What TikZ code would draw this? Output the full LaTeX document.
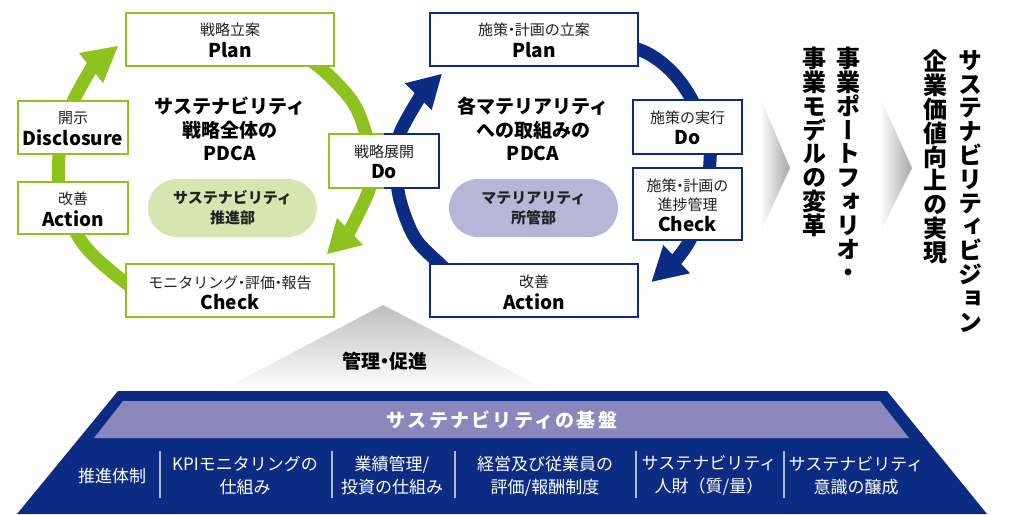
\documentclass[tikz,border=0pt]{standalone}
\usepackage{fontspec}
\setmainfont{Noto Sans CJK JP}
\newfontfamily\vfont{Noto Sans CJK JP}[RawFeature=+vert]
\definecolor{lgreen}{HTML}{8DC21F}
\definecolor{navy}{HTML}{0C2C84}
\definecolor{bandp}{HTML}{8987BB}
\definecolor{pillp}{HTML}{B7B5D8}
\definecolor{pillg}{HTML}{D6E6B1}
\definecolor{sepc}{HTML}{B4B8CF}
\definecolor{txt}{HTML}{222222}
\newcommand{\fs}[2]{\fontsize{#1}{#2}\selectfont}
\newcommand{\dt}{\hspace{-0.28em}・\hspace{-0.28em}}
\tikzset{
 gbox/.style={draw=lgreen, line width=2.3pt, fill=white, inner sep=0},
 bbox/.style={draw=navy, line width=2.3pt, fill=white, inner sep=0},
 ringg/.style={draw=lgreen, line width=13pt},
 ringb/.style={draw=navy, line width=13pt},
 xlab/.style={font=\fs{15}{18}, text=txt, inner sep=0},
 xbig/.style={font=\bfseries\fs{19}{22}, text=black, inner sep=0},
 xttl/.style={font=\bfseries\fs{19}{23.5}, align=center, text=black, inner sep=0},
 xpill/.style={rounded corners=29pt, minimum width=169pt, minimum height=58pt, inner sep=0, align=center, font=\bfseries\fs{15}{20}, text=txt},
 xitem/.style={font=\fs{17}{23}, text=white, align=center, inner sep=0},
 xv/.style={font=\vfont\bfseries\fs{24}{23.8}, align=center, anchor=north, inner sep=0, text=black},
 xsep/.style={draw=sepc, line width=1.2pt},
 xchev/.style={left color=white, right color=black!35},
}
\begin{document}
\begin{tikzpicture}[x=1pt,y=1pt]
\useasboundingbox (0,0) rectangle (1009,-514);
\fill[white] (0,0) rectangle (1009,-514);

% ---- green ring ----
\draw[ringg] plot[smooth, tension=0.55] coordinates {(165,-305) (126,-283) (84,-245) (62,-200) (58.5,-168) (62,-135) (73.3,-101) (95,-62)};
\fill[lgreen] (118,-46) -- (79,-53) -- (103,-83) -- cycle;
\draw[ringg] plot[smooth, tension=0.55] coordinates {(285,-45) (319.5,-67) (352,-101) (366,-134) (371,-162) (369,-190) (346,-238)};
\fill[lgreen] (327,-254) -- (337,-218) -- (363,-245) -- cycle;

% ---- blue ring ----
\draw[ringb] plot[smooth, tension=0.55] coordinates {(470,-292) (441,-265) (415,-238) (400,-200) (396,-165) (400,-133) (423,-92)};
\fill[navy] (441.7,-74) -- (405,-83.3) -- (431.7,-110) -- cycle;
\draw[ringb] plot[smooth, tension=0.55] coordinates {(605,-40) (645,-52) (672,-72) (692,-100) (708,-140) (710,-161) (705,-200) (690,-240) (672,-265)};
\fill[navy] (651.7,-281.7) -- (663.3,-245) -- (690,-273.3) -- cycle;

% ---- green boxes ----
\node[gbox, minimum width=208pt, minimum height=53pt] (gplan) at (230,-39.5) {};
\node[xlab] (gplanl) at (230,-30) {戦略立案};
\node[xbig] (gplanb) at (230,-50) {Plan};
\node[gbox, minimum width=110pt, minimum height=53pt] (gdis) at (73,-127.5) {};
\node[xlab] (gdisl) at (73,-118) {開示};
\node[xbig] (gdisb) at (73,-138) {Disclosure};
\node[gbox, minimum width=110pt, minimum height=52pt] (gact) at (73,-208) {};
\node[xlab] (gactl) at (73,-199) {改善};
\node[xbig] (gactb) at (73,-219) {Action};
\node[gbox, minimum width=208pt, minimum height=53pt] (gchk) at (230,-290.5) {};
\node[xlab] (gchkl) at (230,-283) {モニタリング\dt 評価\dt 報告};
\node[xbig] (gchkb) at (230,-302) {Check};

% ---- shared Do box ----
\node[fill=white, minimum width=110pt, minimum height=54pt, inner sep=0] (gdo) at (384,-161) {};
\draw[lgreen, line width=2.3pt] (gdo.north) -- (gdo.north west) -- (gdo.south west) -- (gdo.south);
\draw[navy, line width=2.3pt] (gdo.north) -- (gdo.north east) -- (gdo.south east) -- (gdo.south);
\node[xlab] (gdol) at (384,-152) {戦略展開};
\node[xbig] (gdob) at (384,-172) {Do};

% ---- blue boxes ----
\node[bbox, minimum width=208pt, minimum height=53pt] (bplan) at (534,-39.5) {};
\node[xlab] (bplanl) at (534,-30) {施策\dt 計画の立案};
\node[xbig] (bplanb) at (534,-50) {Plan};
\node[bbox, minimum width=109pt, minimum height=54pt] (bdo) at (687.5,-127) {};
\node[xlab] (bdol) at (687.5,-118) {施策の実行};
\node[xbig] (bdob) at (687.5,-138) {Do};
\node[bbox, minimum width=109pt, minimum height=72pt] (bchk) at (687.5,-204) {};
\node[xlab] (bchkl1) at (687.5,-186) {施策\dt 計画の};
\node[xlab] (bchkl2) at (687.5,-204.5) {進捗管理};
\node[xbig] (bchkb) at (687.5,-224) {Check};
\node[bbox, minimum width=208pt, minimum height=53pt] (bact) at (534,-290.5) {};
\node[xlab] (bactl) at (534,-282) {改善};
\node[xbig] (bactb) at (534,-302) {Action};

% ---- centre titles and pills ----
\node[xttl] (gttl) at (230,-129) {サステナビリティ\\戦略全体の\\PDCA};
\node[xttl] (bttl) at (533,-129) {各マテリアリティ\\への取組みの\\PDCA};
\node[xpill, fill=pillg] (gpill) at (232.5,-208) {サステナビリティ\\推進部};
\node[xpill, fill=pillp] (bpill) at (533.5,-208) {マテリアリティ\\所管部};

% ---- chevrons and vertical texts ----
\shade[xchev] (760,-97) -- (790,-168) -- (760,-233) -- cycle;
\shade[xchev] (880,-97) -- (912,-168) -- (880,-233) -- cycle;
\node[xv] (v1) at (848,-47) {事\\業\\ポ\\ー\\ト\\フ\\ォ\\リ\\オ\\・};
\node[xv] (v2) at (814,-47) {事\\業\\モ\\デ\\ル\\の\\変\\革};
\node[xv] (v3) at (970,-50) {サ\\ス\\テ\\ナ\\ビ\\リ\\テ\\ィ\\ビ\\ジ\\ョ\\ン};
\node[xv] (v4) at (935,-50) {企\\業\\価\\値\\向\\上\\の\\実\\現};

% ---- foundation ----
\shade[top color=black!25, bottom color=white] (383,-305) -- (549,-391) -- (220,-391) -- cycle;
\node[font=\bfseries\fs{19}{22}, text=black, inner sep=0] (kanri) at (385,-361) {管理\dt 促進};
\fill[navy] (118,-391) -- (887,-391) -- (987,-514) -- (17,-514) -- cycle;
\fill[bandp] (123,-401) -- (880,-401) -- (909,-438) -- (94,-438) -- cycle;
\node[font=\bfseries\fs{19}{22}\addfontfeature{LetterSpace=12}, text=white, inner sep=0] (band) at (502,-420) {サステナビリティの基盤};
\foreach \sx in {160,332,455,636,784} \draw[xsep] (\sx,-451) -- (\sx,-498);
\node[xitem] (i1) at (112,-476) {推進体制};
\node[xitem] (i2) at (245,-476) {KPIモニタリングの\\仕組み};
\node[xitem] (i3) at (392,-476) {業績管理/\\投資の仕組み};
\node[xitem] (i4) at (545,-476) {経営及び従業員の\\評価/報酬制度};
\node[xitem] (i5) at (709,-476) {サステナビリティ\\人財（質/量）};
\node[xitem] (i6) at (856,-476) {サステナビリティ\\意識の醸成};
\end{tikzpicture}
\end{document}
